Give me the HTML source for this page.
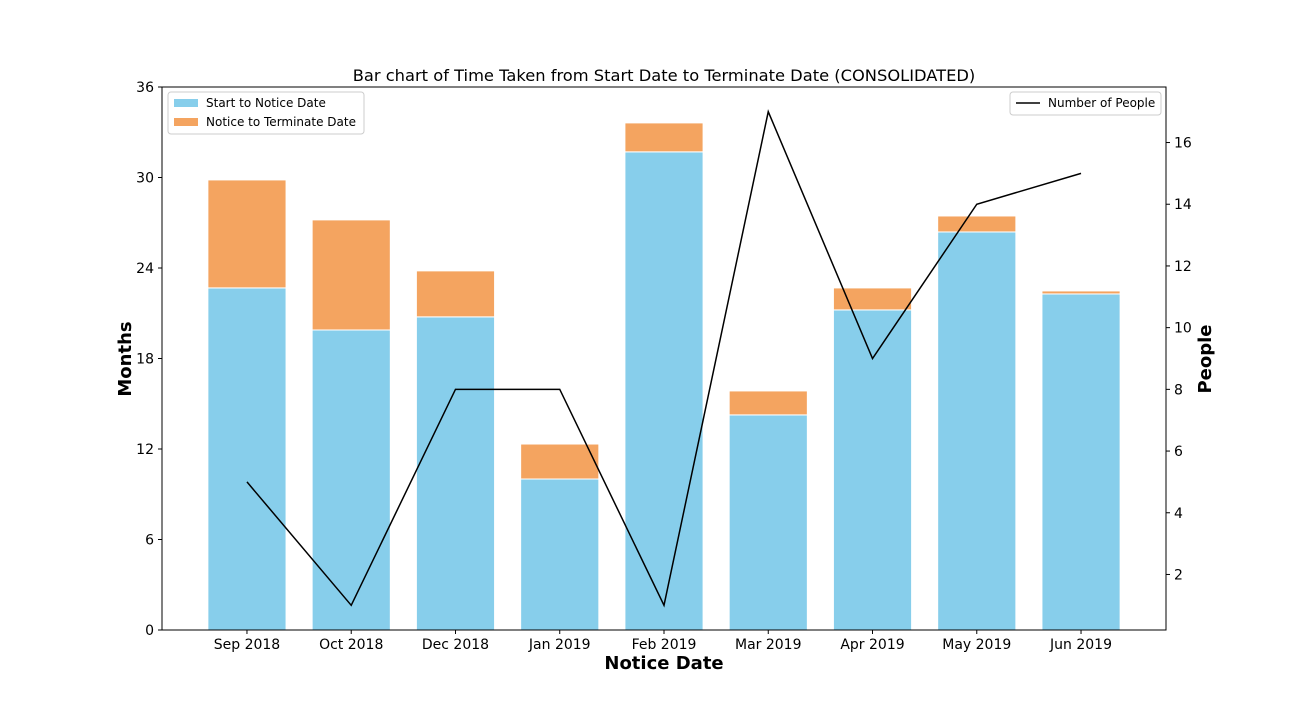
<!DOCTYPE html>
<html><head><meta charset="utf-8"><style>
body{margin:0;background:#fff;}
svg text{font-family:"DejaVu Sans","Liberation Sans",sans-serif;}
</style></head><body>
<svg id="chart" width="1296" height="720" xmlns="http://www.w3.org/2000/svg"></svg>
<script>
const categories=["Sep 2018","Oct 2018","Dec 2018","Jan 2019","Feb 2019","Mar 2019","Apr 2019","May 2019","Jun 2019"];
const startToNotice=[22.68,19.89,20.76,10.01,31.7,14.26,21.22,26.39,22.28];
const noticeToTerminate=[7.16,7.3,3.05,2.32,1.92,1.59,1.46,1.06,0.2];
const people=[5,1,8,8,1,17,9,14,15];
const leftTicks=[0,6,12,18,24,30,36];
const rightTicks=[2,4,6,8,10,12,14,16];

const svg=document.getElementById('chart');
const NS="http://www.w3.org/2000/svg";
const L=162,R=1166,T=87,B=630;
const xs=i=>L+(i+0.815)/(9.63)*(R-L);
const yl=v=>B-v/36*(B-T);
const yr=v=>B-(v-0.2)/17.6*(B-T);
const bw=0.75/9.63*(R-L);
function mk(tag,attrs,parent){const e=document.createElementNS(NS,tag);for(const k in attrs)e.setAttribute(k,attrs[k]);(parent||svg).appendChild(e);return e;}
function txt(s,attrs){const e=mk('text',attrs);e.textContent=s;return e;}

categories.forEach((c,i)=>{
  const x=xs(i)-bw/2;
  const b1=mk('rect',{x:x,y:yl(startToNotice[i]),width:bw,height:B-yl(startToNotice[i]),fill:'#87ceeb',stroke:'#fff','stroke-width':1});
  
  
  const top=startToNotice[i]+noticeToTerminate[i];
  const b2=mk('rect',{x:x,y:yl(top),width:bw,height:yl(startToNotice[i])-yl(top),fill:'#f4a460',stroke:'#fff','stroke-width':1});
  
  
  mk('line',{x1:xs(i),x2:xs(i),y1:B,y2:B+4,stroke:'#000'});
  const t=txt(c,{x:xs(i),y:B+19,'font-size':14,'text-anchor':'middle'});
  
  
});
const pts=people.map((v,i)=>xs(i)+','+yr(v)).join(' ');
const line=mk('polyline',{points:pts,fill:'none',stroke:'#000','stroke-width':1.5});



mk('rect',{x:L,y:T,width:R-L,height:B-T,fill:'none',stroke:'#000','stroke-width':1});
leftTicks.forEach(v=>{
  mk('line',{x1:L-4,x2:L,y1:yl(v),y2:yl(v),stroke:'#000'});
  const t=txt(v,{x:L-8,y:yl(v)+5,'font-size':14,'text-anchor':'end'});
  
  
});
rightTicks.forEach(v=>{
  mk('line',{x1:R,x2:R+4,y1:yr(v),y2:yr(v),stroke:'#000'});
  const t=txt(v,{x:R+8,y:yr(v)+5,'font-size':14});
  
  
});
</script>
<svg width="1296" height="720" style="position:absolute;left:0;top:0" xmlns="http://www.w3.org/2000/svg">
<text x="664" y="81" font-size="16.3" text-anchor="middle" font-family="DejaVu Sans, Liberation Sans, sans-serif">Bar chart of Time Taken from Start Date to Terminate Date (CONSOLIDATED)</text>
<text x="664" y="669" font-size="18" font-weight="bold" text-anchor="middle" font-family="DejaVu Sans, Liberation Sans, sans-serif">Notice Date</text>
<text transform="translate(131,359) rotate(-90)" font-size="18" font-weight="bold" text-anchor="middle" font-family="DejaVu Sans, Liberation Sans, sans-serif">Months</text>
<text transform="translate(1211,359) rotate(-90)" font-size="18" font-weight="bold" text-anchor="middle" font-family="DejaVu Sans, Liberation Sans, sans-serif">People</text>
<g font-family="DejaVu Sans, Liberation Sans, sans-serif" font-size="12">
<rect x="168" y="92" width="196" height="42" rx="3" fill="#fff" stroke="#ccc"/>
<rect x="174" y="99" width="24" height="8" fill="#87ceeb"/>
<text x="206" y="107">Start to Notice Date</text>
<rect x="174" y="118" width="24" height="8" fill="#f4a460"/>
<text x="206" y="126">Notice to Terminate Date</text>
</g>
<g font-family="DejaVu Sans, Liberation Sans, sans-serif" font-size="12">
<rect x="1010" y="92" width="151" height="23" rx="3" fill="#fff" stroke="#ccc"/>
<line x1="1016" x2="1040" y1="103" y2="103" stroke="#000" stroke-width="1.5"/>
<text x="1048" y="107">Number of People</text>
</g>
</svg>
</body></html>
